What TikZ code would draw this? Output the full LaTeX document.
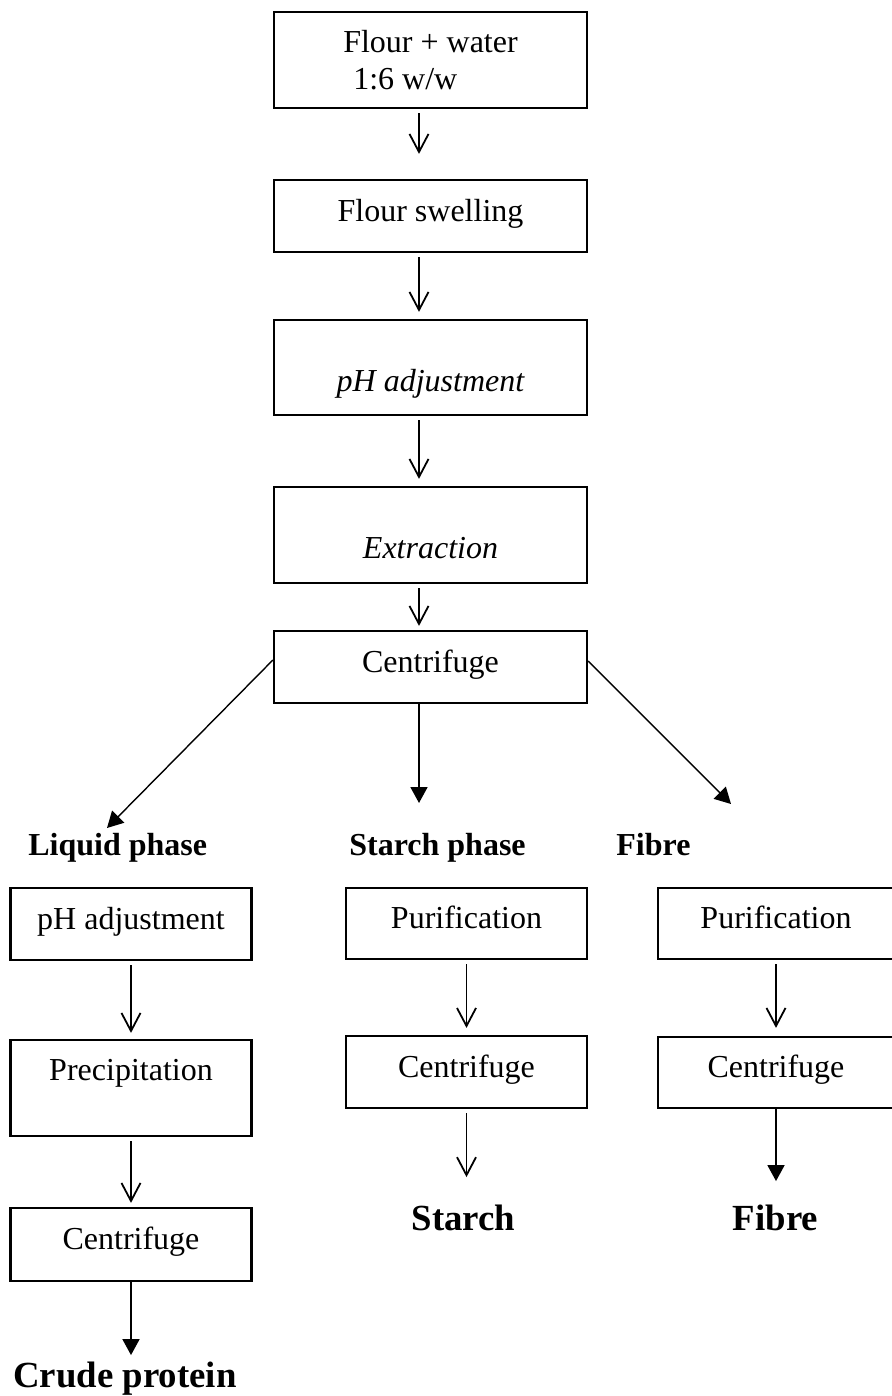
\documentclass[tikz,border=0pt]{standalone}
\usepackage{fontspec}
\setmainfont{Liberation Serif}
\usetikzlibrary{arrows.meta}

\newcommand{\flowsize}{\fontsize{16pt}{18.5pt}\selectfont}

\tikzset{
  frame/.style={draw, line width=1.1pt, inner sep=0pt, minimum width=120.5pt, minimum height=36pt},
  box/.style={frame, text height=10pt, text depth=5pt},
  flow/.style={-{Straight Barb[length=9pt,width=9.5pt]}, line width=0.9pt, shorten <=2pt},
  flowfill/.style={-{Triangle[length=8pt,width=8.5pt]}, line width=0.9pt},
  lbl/.style={font=\flowsize\bfseries, inner sep=0pt, anchor=base west},
  product/.style={font=\fontsize{18.4pt}{22pt}\selectfont\bfseries, inner sep=0pt, anchor=base},
}

\begin{document}
\begin{tikzpicture}[x=0.5pt, y=-0.5pt, every node/.style={font=\flowsize}]
    \useasboundingbox (0,0) rectangle (891,1396);
    \coordinate (spine) at (419,0);

    \node[frame, minimum width=156.5pt, minimum height=48pt, align=left] (mix) at (430.5,60) {Flour + water\\\hspace*{5pt}1:6 w/w};
    \node[box, minimum width=156.5pt] (swell) at (430.5,216) {Flour swelling};
    \node[box, minimum width=156.5pt, minimum height=47.5pt, text height=28pt, text depth=4.5pt, font=\flowsize\itshape] (adjust) at (430.5,367.5) {pH adjustment};
    \node[box, minimum width=156.5pt, minimum height=48pt, text height=28pt, text depth=5pt, font=\flowsize\itshape] (extract) at (430.5,535) {Extraction};
    \node[box, minimum width=156.5pt] (spin) at (430.5,667) {Centrifuge};

    \draw[flow, shorten >=12.5pt] (mix.south -| spine) -- (swell.north -| spine);
    \draw[flow, shorten >=3.5pt] (swell.south -| spine) -- (adjust.north -| spine);
    \draw[flow, shorten >=3.5pt] (adjust.south -| spine) -- (extract.north -| spine);
    \draw[flow, shorten >=2pt] (extract.south -| spine) -- (spin.north -| spine);

    \coordinate (toliquid) at (107,828);
    \coordinate (tostarch) at (419,803);
    \coordinate (tofibre) at (731,804);
    \draw[flowfill, line width=0.7pt] ([yshift=3.5pt]spin.west) -- (toliquid);
    \draw[flowfill] (spin.south -| spine) -- (tostarch);
    \draw[flowfill, line width=0.7pt] ([yshift=3pt]spin.east) -- (tofibre);

    \node[lbl] (liquid) at (28,855) {Liquid phase};
    \node[lbl] (starchph) at (349,855) {Starch phase};
    \node[lbl] (fibreph) at (616,855) {Fibre};

    \node[box] (ladjust) at (131,924) {pH adjustment};
    \node[box, minimum height=48pt, text depth=18pt] (precip) at (131,1088) {Precipitation};
    \node[box, minimum height=36.5pt] (lspin) at (131,1244.5) {Centrifuge};
    \node[product] (protein) at (125,1387) {Crude protein};
    \draw[flow, shorten >=3pt] (ladjust) -- (precip);
    \draw[flow, shorten >=2pt] (precip) -- (lspin);
    \draw[flowfill, shorten >=3pt] (lspin.south) -- (lspin.south |- protein.north);

    \node[box, minimum height=35.5pt] (mpurify) at (466.5,923.5) {Purification};
    \node[box] (mspin) at (466.5,1072) {Centrifuge};
    \node[product] (starch) at (463.5,1230) {Starch};
    \draw[flow, shorten >=3.5pt] (mpurify) -- (mspin);
    \draw[flow, shorten >=13.5pt] (mspin.south) -- (mspin.south |- starch.north);

    \node[box, minimum width=118pt, minimum height=35.5pt] (fpurify) at (776,923.5) {Purification};
    \node[box, minimum width=118pt, minimum height=35.5pt] (fspin) at (776,1072.5) {Centrifuge};
    \node[product] (fibre) at (775.5,1230) {Fibre};
    \draw[flow, shorten >=4pt] (fpurify) -- (fspin);
    \draw[flowfill, shorten >=11.5pt] (fspin.south) -- (fspin.south |- fibre.north);
\end{tikzpicture}
\end{document}
